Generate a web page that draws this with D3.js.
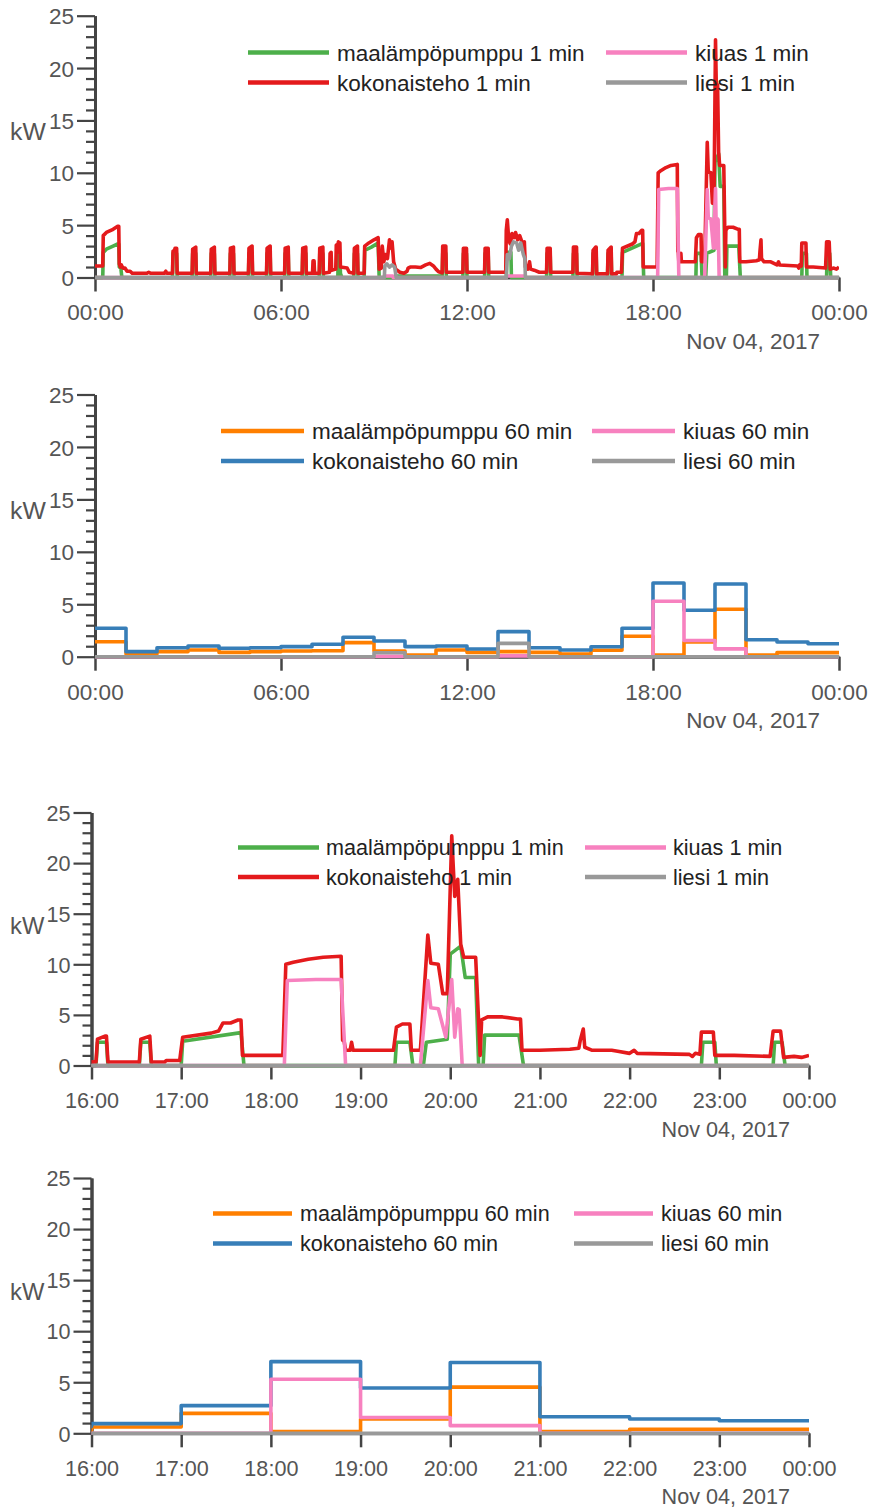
<!DOCTYPE html>
<html>
<head>
<meta charset="utf-8">
<script src="https://cdn.jsdelivr.net/npm/d3@7"></script>
<style>
  html, body { margin: 0; padding: 0; background: #fff; }
  svg { display: block; font-family: "Liberation Sans", Arial, Helvetica, sans-serif; }
</style>
</head>
<body>
<svg id="chart" width="871" height="1509"></svg>
<script>
// ---------------------------------------------------------------
// Power use on Nov 4, 2017 (kW). One-minute series are vertex lists
// [clock time, kW]; hourly series hold one mean per hour 00..23.
// ---------------------------------------------------------------

// maalämpöpumppu (ground-source heat pump), 1 min
const minuteHeatPump = [
  ["00:00",0],["00:15",0],["00:16",2.4],["00:22",2.7],["00:35",3.0],["00:44",3.2],["00:46",3.2],["00:47",1.0],["00:50",0.9],["00:52",0],
  ["02:30",0],["02:31",2.3],["02:38",2.3],["02:39",0],
  ["03:08",0],["03:09",2.3],["03:15",2.3],["03:16",0],
  ["03:44",0],["03:45",2.3],["03:51",2.3],["03:52",0],
  ["04:21",0],["04:22",2.3],["04:28",2.3],["04:29",0],
  ["04:57",0],["04:58",2.3],["05:04",2.3],["05:05",0],
  ["05:32",0],["05:33",2.3],["05:39",2.3],["05:40",0],
  ["06:07",0],["06:08",2.3],["06:14",2.3],["06:15",0],
  ["06:41",0],["06:42",2.3],["06:48",2.3],["06:49",0],
  ["07:14",0],["07:15",2.3],["07:21",2.3],["07:22",0],
  ["07:50",0],["07:51",2.3],["07:54",2.3],["07:55",0.4],["07:58",0],
  ["08:21",0],["08:22",2.3],["08:28",2.3],["08:29",0],
  ["08:41",0],["08:42",2.6],["08:55",2.9],["09:08",3.3],["09:10",0],
  ["09:40",0],["09:41",0.15],["11:12",0.15],["11:13",2.3],["11:19",2.3],["11:20",0],
  ["11:52",0],["11:53",2.3],["11:59",2.3],["12:00",0],
  ["12:34",0],["12:35",2.3],["12:41",2.3],["12:42",0],
  ["13:16",0],["13:17",2.4],["13:25",2.4],["13:26",0],
  ["14:34",0],["14:35",2.3],["14:41",2.3],["14:42",0],
  ["15:25",0],["15:26",2.3],["15:32",2.3],["15:33",0],
  ["16:03",0],["16:04",2.3],["16:10",2.3],["16:11",0],
  ["16:32",0],["16:33",2.3],["16:39",2.3],["16:40",0],
  ["17:00",0],["17:01",2.4],["17:40",3.25],["17:42",0],
  ["19:23",0],["19:24",2.3],["19:33",2.3],["19:35",0],
  ["19:42",0],["19:44",2.3],["19:58",2.6],["20:00",11.0],["20:07",11.8],["20:10",8.7],["20:17",8.7],["20:19",0],
  ["20:22",0],["20:23",3.0],["20:46",3.0],["20:49",0],
  ["22:48",0],["22:49",2.3],["22:57",2.3],["22:58",0],
  ["23:36",0],["23:37",2.3],["23:42",2.3],["23:44",0],["24:00",0]
];

// kokonaisteho (total power), 1 min
const minuteTotal = [
  ["00:00",1.1],["00:15",1.1],["00:16",4.0],["00:22",4.3],["00:35",4.6],["00:44",4.9],["00:46",4.9],["00:47",1.3],["00:49",1.0],["00:51",1.2],["00:54",0.9],["00:58",0.9],["01:02",0.6],["01:08",0.6],["01:12",0.4],
  ["01:40",0.4],["01:44",0.5],["01:48",0.4],["02:14",0.4],["02:17",0.6],["02:19",0.4],
  ["02:30",0.4],["02:31",2.5],["02:34",2.6],["02:35",2.8],["02:38",2.8],["02:39",0.4],
  ["03:08",0.4],["03:09",2.7],["03:15",2.9],["03:16",0.4],
  ["03:44",0.4],["03:45",2.7],["03:51",2.9],["03:52",0.4],
  ["04:21",0.4],["04:22",2.8],["04:28",2.9],["04:29",0.4],
  ["04:57",0.4],["04:58",2.8],["05:04",3.0],["05:05",0.4],
  ["05:32",0.4],["05:33",2.8],["05:39",3.0],["05:40",0.4],
  ["06:07",0.4],["06:08",2.8],["06:14",2.9],["06:15",0.4],
  ["06:41",0.4],["06:42",2.8],["06:48",2.9],["06:49",0.4],
  ["07:01",0.4],["07:02",1.6],["07:04",1.6],["07:05",0.4],
  ["07:14",0.4],["07:15",2.8],["07:21",2.9],["07:22",0.4],
  ["07:34",0.5],["07:35",2.3],["07:37",2.4],["07:38",0.7],
  ["07:46",0.8],["07:47",3.1],["07:49",2.4],["07:51",3.4],["07:54",3.3],["07:55",1.0],
  ["08:08",0.9],["08:12",0.5],["08:21",0.4],["08:22",2.8],["08:28",3.0],["08:29",0.4],
  ["08:41",0.4],["08:42",3.0],["08:50",3.3],["09:00",3.6],["09:08",3.8],["09:10",0.8],
  ["09:14",0.9],["09:16",3.0],["09:19",1.5],["09:22",2.2],["09:26",1.8],["09:30",3.6],["09:33",2.8],["09:35",3.4],["09:38",1.5],["09:42",0.8],["09:50",0.5],["09:58",0.4],
  ["10:04",0.6],["10:06",0.9],["10:10",1.0],["10:20",1.0],["10:30",0.95],["10:40",1.2],["10:48",1.35],["10:55",1.1],["11:00",0.8],["11:05",0.55],["11:12",0.45],
  ["11:13",3.0],["11:19",3.0],["11:20",0.5],
  ["11:52",0.5],["11:53",2.8],["11:59",2.8],["12:00",0.5],
  ["12:34",0.5],["12:35",2.8],["12:41",2.8],["12:42",0.5],
  ["13:15",0.5],["13:16",4.5],["13:18",5.5],["13:21",3.5],["13:24",3.2],["13:27",4.2],["13:31",3.8],["13:34",4.3],["13:38",3.6],["13:42",4.0],["13:47",3.3],["13:51",3.4],["13:53",1.0],
  ["13:58",0.8],["14:01",1.5],["14:03",0.8],["14:10",0.7],["14:20",0.5],
  ["14:34",0.5],["14:35",2.8],["14:41",2.8],["14:42",0.5],
  ["15:25",0.5],["15:26",2.9],["15:32",2.9],["15:33",0.4],
  ["16:03",0.35],["16:04",2.6],["16:09",2.9],["16:10",2.9],["16:11",0.35],
  ["16:32",0.35],["16:33",2.6],["16:39",2.9],["16:40",0.35],
  ["16:49",0.35],["16:50",0.5],["16:59",0.5],
  ["17:01",2.8],["17:20",3.2],["17:25",3.4],["17:28",4.2],["17:33",4.2],["17:38",4.5],["17:40",4.5],["17:41",1.0],
  ["18:08",1.0],["18:10",10.0],["18:15",10.2],["18:25",10.5],["18:35",10.7],["18:47",10.8],["18:48",2.5],["18:49",2.4],["18:50",1.5],
  ["18:53",1.5],["18:54",2.3],["18:55",1.5],["19:22",1.5],
  ["19:24",3.8],["19:28",4.1],["19:33",4.1],["19:34",1.5],["19:40",1.5],
  ["19:45",12.9],["19:47",10.1],["19:52",10.0],["19:55",7.1],["19:58",7.1],
  ["20:01",22.7],["20:03",16.7],["20:05",18.4],["20:07",12.0],["20:09",10.7],["20:17",10.7],["20:20",1.0],
  ["20:21",4.5],["20:25",4.8],["20:35",4.8],["20:45",4.6],["20:47",4.6],["20:48",1.5],
  ["21:00",1.5],["21:20",1.6],["21:26",1.7],["21:27",2.5],["21:29",3.6],["21:30",1.8],["21:35",1.5],["21:48",1.5],["21:52",1.4],
  ["22:00",1.2],["22:03",1.5],["22:05",1.2],["22:40",1.1],["22:42",0.9],["22:44",1.2],["22:47",1.1],
  ["22:48",3.3],["22:56",3.3],["22:57",1.0],
  ["23:10",1.0],["23:34",0.9],["23:36",3.4],["23:41",3.4],["23:43",0.8],["23:50",0.9],["23:55",0.8],["24:00",1.0]
];

// kiuas (sauna stove), 1 min
const minuteSauna = [
  ["00:00",0],["09:19",0],["09:20",0.15],["09:36",0.15],["09:37",0],
  ["13:16",0],["13:17",0.15],["13:53",0.15],["13:54",0],
  ["18:09",0],["18:11",8.4],["18:30",8.5],["18:47",8.5],["18:50",0],
  ["19:40",0],["19:45",8.4],["19:47",5.7],["19:52",5.6],["19:57",2.8],["20:01",8.5],["20:03",2.8],["20:05",5.6],["20:06",5.5],["20:08",0],
  ["24:00",0]
];

// liesi (kitchen stove), 1 min
const minuteStove = [
  ["00:00",0],["09:20",0],["09:21",1.1],["09:25",1.3],["09:30",1.0],["09:35",1.2],["09:40",1.0],["09:43",0],
  ["13:16",0],["13:18",2.2],["13:22",1.8],["13:26",3.0],["13:30",3.4],["13:36",3.3],["13:40",2.6],["13:44",3.3],["13:49",2.2],["13:52",1.8],["13:53",0],
  ["24:00",0]
];

// hourly means, 00:00 .. 23:00
const hourlyHeatPump = [1.43,0.25,0.48,0.64,0.41,0.48,0.54,0.57,1.34,0.54,0.16,0.64,0.41,0.48,0.41,0.25,0.62,1.95,0.16,1.40,4.52,0.16,0.39,0.39];
const hourlyTotal    = [2.71,0.48,0.86,1.02,0.80,0.86,0.96,1.18,1.85,1.50,0.96,1.02,0.73,2.39,0.86,0.64,0.95,2.71,7.02,4.43,6.93,1.62,1.40,1.23];
const hourlySauna    = [0,0,0,0,0,0,0,0,0,0.05,0,0,0,0.08,0,0,0,0,5.29,1.55,0.75,0,0,0];
const hourlyStove    = [0,0,0,0,0,0,0,0,0,0.37,0,0,0,1.27,0,0,0,0,0,0,0,0,0,0];

const minuteNames = ["maalämpöpumppu 1 min", "kokonaisteho 1 min", "kiuas 1 min", "liesi 1 min"];
const hourlyNames = ["maalämpöpumppu 60 min", "kokonaisteho 60 min", "kiuas 60 min", "liesi 60 min"];

const dayTicks     = ["00:00", "06:00", "12:00", "18:00", "24:00"];
const eveningTicks = ["16:00", "17:00", "18:00", "19:00", "20:00", "21:00", "22:00", "23:00", "24:00"];
const kwTicks      = [0, 5, 10, 15, 20, 25];
const kwMinorTicks = [1, 2, 3, 4, 6, 7, 8, 9, 11, 12, 13, 14, 16, 17, 18, 19, 21, 22, 23, 24];

// ---------------------------------------------------------------
const at = s => { const [h, m] = s.split(":").map(Number); return new Date(2017, 10, 4, h, m); };
const hourPoints = vals => vals.map((v, i) => [new Date(2017, 10, 4, i, 0), v])
  .concat([[new Date(2017, 10, 4, 24, 0), vals[vals.length - 1]]]);

const minuteSeries = [
  { name: minuteNames[0], color: "#4daf4a", pts: minuteHeatPump.map(d => [at(d[0]), d[1]]) },
  { name: minuteNames[1], color: "#e41a1c", pts: minuteTotal.map(d => [at(d[0]), d[1]]) },
  { name: minuteNames[2], color: "#f781bf", pts: minuteSauna.map(d => [at(d[0]), d[1]]) },
  { name: minuteNames[3], color: "#999999", pts: minuteStove.map(d => [at(d[0]), d[1]]) }
];
const hourlySeries = [
  { name: hourlyNames[0], color: "#ff7f00", pts: hourPoints(hourlyHeatPump) },
  { name: hourlyNames[1], color: "#377eb8", pts: hourPoints(hourlyTotal) },
  { name: hourlyNames[2], color: "#f781bf", pts: hourPoints(hourlySauna) },
  { name: hourlyNames[3], color: "#999999", pts: hourPoints(hourlyStove) }
];

const panels = [
  { series: minuteSeries, step: false, ticks: dayTicks, left: 95, right: 839, zero: 277.5, top: 15.7, font: 22.5,
    legend: { x1: 248, x2: 606, gap: 8, y: 52.5, dy: 30, len: 81 } },
  { series: hourlySeries, step: true, ticks: dayTicks, left: 95, right: 839, zero: 656.7, top: 394.5, font: 22.5,
    legend: { x1: 221, x2: 592, gap: 8, y: 431, dy: 30, len: 83 } },
  { series: minuteSeries, step: false, ticks: eveningTicks, left: 91.5, right: 809, zero: 1065.5, top: 812.5, font: 21.6,
    legend: { x1: 238, x2: 585, gap: 7, y: 847.5, dy: 29.5, len: 81 } },
  { series: hourlySeries, step: true, ticks: eveningTicks, left: 91.5, right: 809, zero: 1433.3, top: 1178, font: 21.6,
    legend: { x1: 213, x2: 574, gap: 8, y: 1213.5, dy: 30, len: 79 } }
];

const svg = d3.select("#chart");
const axisColor = "#444";
const textColor = "#555";
const fmtTime = d3.timeFormat("%H:%M");
const fmtDate = d3.timeFormat("%b %d, %Y");

panels.forEach((p, pi) => {
  const F = p.font;
  const g = svg.append("g");
  const x = d3.scaleTime().domain([at(p.ticks[0]), at(p.ticks[p.ticks.length - 1])]).range([p.left, p.right]);
  const y = d3.scaleLinear().domain([0, 25]).range([p.zero, p.top]);

  // y axis: major + minor ticks
  const yMinor = g.append("g").attr("transform", `translate(${p.left},0)`)
    .call(d3.axisLeft(y).tickValues(kwMinorTicks).tickSize(9).tickSizeOuter(0).tickFormat(""));
  const yMajor = g.append("g").attr("transform", `translate(${p.left},0)`)
    .call(d3.axisLeft(y).tickValues(kwTicks).tickSize(18).tickSizeOuter(0).tickPadding(3));
  [yMinor, yMajor].forEach(a => {
    a.select(".domain").attr("stroke", axisColor).attr("stroke-width", 3);
    a.selectAll(".tick line").attr("stroke", axisColor).attr("stroke-width", 2.2);
  });
  yMajor.selectAll(".tick text").attr("fill", textColor).style("font-size", F + "px")
    .attr("font-family", null).attr("dy", "0.36em");

  // kW label
  g.append("text").attr("x", 10).attr("y", y(15) + 20).attr("fill", textColor)
    .style("font-size", (F * 1.1) + "px").text("kW");

  // x axis
  const xa = g.append("g").attr("transform", `translate(0,${p.zero})`)
    .call(d3.axisBottom(x).tickValues(p.ticks.map(at)).tickSize(14).tickSizeOuter(0).tickPadding(13).tickFormat(fmtTime));
  xa.select(".domain").attr("stroke", axisColor).attr("stroke-width", 3);
  xa.selectAll(".tick line").attr("stroke", axisColor).attr("stroke-width", 2.5);
  xa.selectAll(".tick text").attr("fill", textColor).style("font-size", F + "px").attr("font-family", null);

  g.append("text").attr("x", p.right - 19).attr("y", p.zero + 71).attr("text-anchor", "end")
    .attr("fill", textColor).style("font-size", F + "px").text(fmtDate(at("00:00")));

  // data lines, clipped to the plot area
  const clipId = "clip" + pi;
  svg.append("clipPath").attr("id", clipId).append("rect")
    .attr("x", p.left).attr("y", p.top - 10).attr("width", p.right - p.left).attr("height", p.zero - p.top + 14);
  const line = d3.line().x(d => x(d[0])).y(d => y(d[1]))
    .curve(p.step ? d3.curveStepAfter : d3.curveLinear);
  const lg = g.append("g").attr("clip-path", `url(#${clipId})`);
  p.series.forEach(s => {
    lg.append("path").datum(s.pts).attr("d", line)
      .attr("fill", "none").attr("stroke", s.color).attr("stroke-width", 3.6)
      .attr("stroke-linejoin", "round").attr("stroke-linecap", "butt");
  });

  // legend: two columns, two rows
  const L = p.legend;
  p.series.forEach((s, i) => {
    const lx = i < 2 ? L.x1 : L.x2;
    const ly = L.y + (i % 2) * L.dy;
    g.append("line").attr("x1", lx).attr("x2", lx + L.len).attr("y1", ly).attr("y2", ly)
      .attr("stroke", s.color).attr("stroke-width", 4.5);
    g.append("text").attr("x", lx + L.len + L.gap).attr("y", ly).attr("dy", "0.36em")
      .attr("fill", "#222").style("font-size", F + "px").text(s.name);
  });
});
</script>
</body>
</html>
